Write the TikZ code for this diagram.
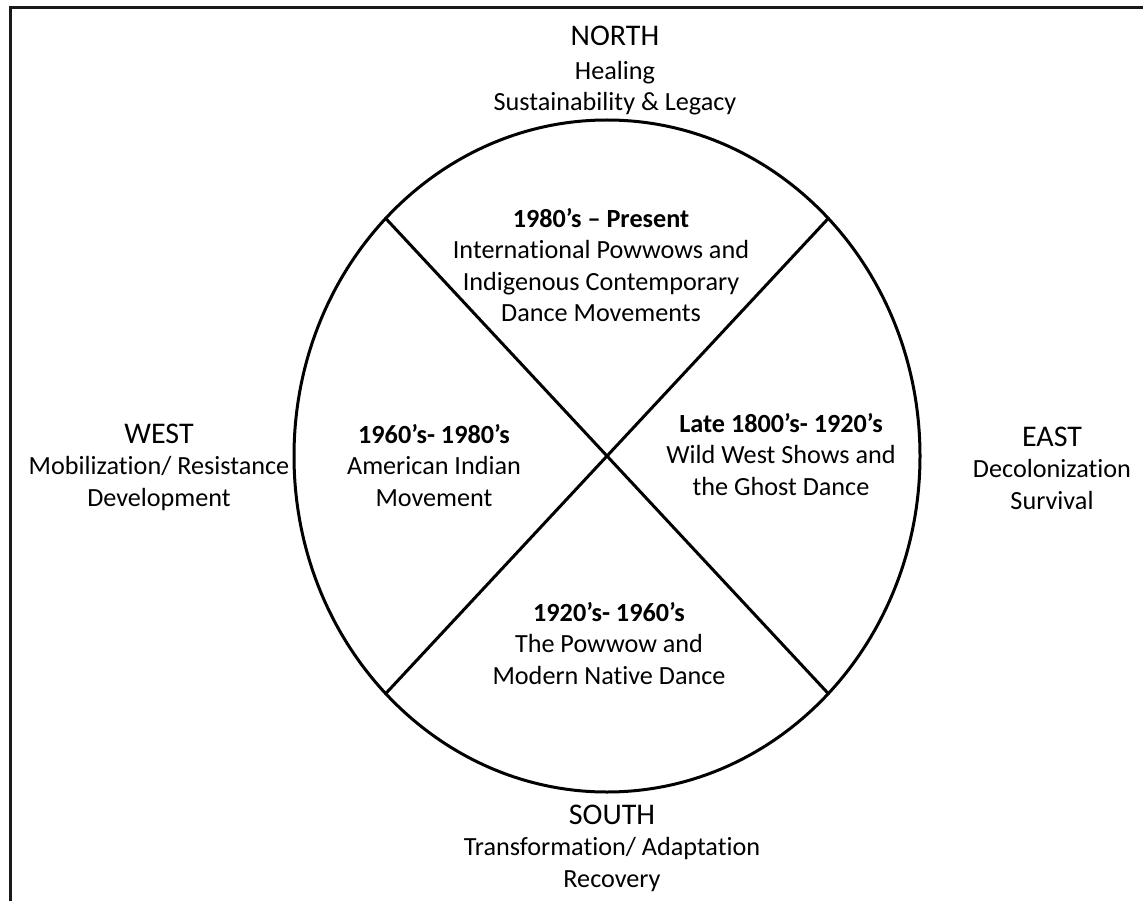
\documentclass[tikz,border=0pt]{standalone}
\usepackage{fontspec}
\setmainfont[Ligatures=NoCommon]{Carlito}
\usetikzlibrary{calc,shapes.geometric}
\newcommand{\dirtitle}[1]{{\fontsize{30}{31.5}\selectfont #1}}
\begin{document}
\begin{tikzpicture}[x=1pt,y=-1pt,
  txt/.style={align=center,inner sep=0pt,anchor=base,font=\fontsize{26.2}{31.5}\selectfont},
  wheel/.style={line width=3pt,draw=black},
  frame/.style={line width=3pt,draw=black!90}]
\useasboundingbox (0,0) rectangle (1143,901);
% partial page frame (left and top edges)
\draw[frame] (10.5,901) -- (10.5,7.8) -- (1143,7.8);
% medicine wheel
\coordinate (c) at (607,456);
\node[wheel,ellipse,minimum width=626pt,minimum height=672pt,inner sep=0pt,draw] (w) at (c) {};
\coordinate (ul) at ($(c)+(-221.3,-237.6)$);
\coordinate (ur) at ($(c)+(221.3,-237.6)$);
\coordinate (ll) at ($(c)+(-221.3,237.6)$);
\coordinate (lr) at ($(c)+(221.3,237.6)$);
\draw[wheel,line cap=round] (ul) -- (lr);
\draw[wheel,line cap=round] (ur) -- (ll);
% directions (anchored at the baseline of the last line)
\node[txt] (north) at (615,111) {\dirtitle{NORTH}\\[2pt]Healing\\Sustainability \& Legacy};
\node[txt] (west) at (159,506) {\dirtitle{WEST}\\Mobilization/ Resistance\\Development};
\node[txt] (east) at (1052,509) {\dirtitle{EAST}\\Decolonization\\Survival};
\node[txt] (south) at (612,887) {\dirtitle{SOUTH}\\Transformation/ Adaptation\\Recovery};
% eras
\node[txt] (q1) at (601,322) {\textbf{1980’s – Present}\\International Powwows and\\Indigenous Contemporary\\Dance Movements};
\node[txt] (q2) at (434,506) {\textbf{1960’s- 1980’s}\\American Indian\\Movement};
\node[txt] (q3) at (781,495) {\textbf{Late 1800’s- 1920’s}\\Wild West Shows and\\the Ghost Dance};
\node[txt] (q4) at (609,684) {\textbf{1920’s- 1960’s}\\The Powwow and\\Modern Native Dance};
\end{tikzpicture}
\end{document}
